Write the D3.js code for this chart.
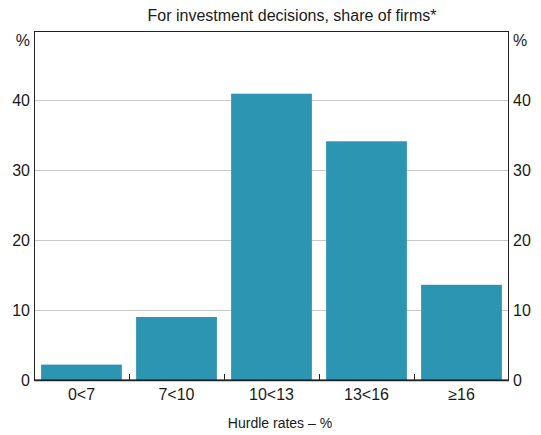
<!DOCTYPE html>
<html>
<head>
<meta charset="utf-8">
<script src="https://cdn.jsdelivr.net/npm/d3@7"></script>
<style>
  body { margin: 0; background: #fff; }
  text { font-family: "Liberation Sans", Arial, sans-serif; fill: #1a1a1a; }
</style>
</head>
<body>
<div id="chart"></div>
<script>
// data
var categories = ["0<7", "7<10", "10<13", "13<16", "\u226516"];
var shares = [2.2, 9.0, 40.9, 34.1, 13.6];
var yTicks = [0, 10, 20, 30, 40];

var width = 541;
var height = 435;
var plotLeft = 34, plotRight = 509, plotTop = 30, plotBottom = 380;

var svg = d3.select("#chart")
  .append("svg")
  .attr("width", width)
  .attr("height", height);

var x = d3.scaleBand()
  .domain(categories)
  .range([plotLeft, plotRight])
  .paddingInner(0.15)
  .paddingOuter(0.075);

var y = d3.scaleLinear()
  .domain([0, 50])
  .range([plotBottom, plotTop]);

// gridlines
svg.append("g")
  .selectAll("line")
  .data(yTicks.filter(function(d) { return d > 0; }))
  .enter()
  .append("line")
  .attr("x1", plotLeft)
  .attr("x2", plotRight)
  .attr("y1", function(d) { return y(d) + 0.5; })
  .attr("y2", function(d) { return y(d) + 0.5; })
  .attr("stroke", "#c8c8c8")
  .attr("stroke-width", 1);

// bars
svg.append("g")
  .selectAll("rect")
  .data(shares)
  .enter()
  .append("rect")
  .attr("x", function(d, i) { return x(categories[i]); })
  .attr("width", x.bandwidth())
  .attr("y", function(d) { return y(d); })
  .attr("height", function(d) { return y(0) - y(d); })
  .attr("fill", "#2b95b2");

// frame
svg.append("rect")
  .attr("x", plotLeft + 0.5)
  .attr("y", y(50) + 1.5)
  .attr("width", plotRight - plotLeft - 1)
  .attr("height", plotBottom - y(50) - 1.5)
  .attr("fill", "none")
  .attr("stroke", "#222")
  .attr("stroke-width", 1);

// x axis baseline ticks between categories
var step = x.step();
var tickPos = categories.slice(1).map(function(c) { return x(c) - x.paddingInner() * step / 2; });
svg.append("g")
  .selectAll("line")
  .data(tickPos)
  .enter()
  .append("line")
  .attr("x1", function(d) { return Math.round(d) + 0.5; })
  .attr("x2", function(d) { return Math.round(d) + 0.5; })
  .attr("y1", plotBottom)
  .attr("y2", plotBottom - 6)
  .attr("stroke", "#222");

svg.append("line")
  .attr("x1", plotLeft)
  .attr("x2", plotRight)
  .attr("y1", plotBottom + 0.5)
  .attr("y2", plotBottom + 0.5)
  .attr("stroke", "#222")
  .attr("stroke-width", 1.5);

// x labels
svg.append("g")
  .selectAll("text")
  .data(categories)
  .enter()
  .append("text")
  .attr("x", function(d) { return x(d) + x.bandwidth() / 2; })
  .attr("y", 400)
  .attr("text-anchor", "middle")
  .style("font-size", "16px")
  .text(function(d) { return d; });

// y labels left and right
svg.append("g")
  .selectAll("text")
  .data(yTicks)
  .enter()
  .append("text")
  .attr("x", plotLeft - 4)
  .attr("y", function(d) { return y(d) + 6; })
  .attr("text-anchor", "end")
  .style("font-size", "16px")
  .text(function(d) { return d; });

svg.append("g")
  .selectAll("text")
  .data(yTicks)
  .enter()
  .append("text")
  .attr("x", plotRight + 4)
  .attr("y", function(d) { return y(d) + 6; })
  .attr("text-anchor", "start")
  .style("font-size", "16px")
  .text(function(d) { return d; });

svg.append("text")
  .attr("x", plotLeft - 4)
  .attr("y", 46)
  .attr("text-anchor", "end")
  .style("font-size", "16px")
  .text("%");

svg.append("text")
  .attr("x", plotRight + 4)
  .attr("y", 46)
  .attr("text-anchor", "start")
  .style("font-size", "16px")
  .text("%");

// title and axis title
svg.append("text")
  .attr("x", 292)
  .attr("y", 21)
  .attr("text-anchor", "middle")
  .style("font-size", "16px")
  .text("For investment decisions, share of firms*");

svg.append("text")
  .attr("x", 280)
  .attr("y", 428)
  .attr("text-anchor", "middle")
  .style("font-size", "14px")
  .text("Hurdle rates \u2013 %");
</script>
</body>
</html>
